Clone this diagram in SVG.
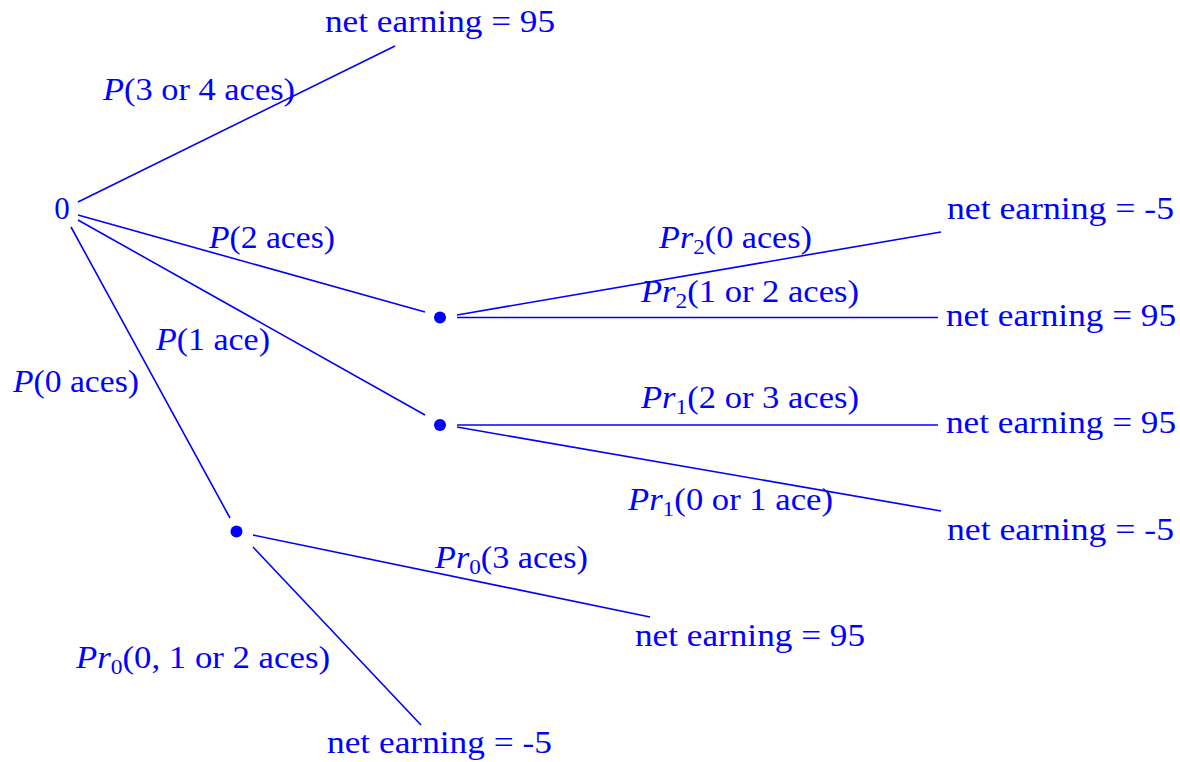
<svg xmlns="http://www.w3.org/2000/svg" width="1180" height="762" viewBox="0 0 1180 762">
<style>
  .t { font-family: "Liberation Serif", "Times New Roman", serif; font-size: 31px; fill: #0000ff; }
  .i { font-style: italic; }
  .s { font-size: 21px; }
  .ln { stroke: #0000ff; stroke-width: 1.6; fill: none; }
  .dot { fill: #0000ff; }
</style>
<rect width="1180" height="762" fill="#ffffff"/>
<g id="connectors">
  <line class="ln" x1="78" y1="202" x2="395" y2="46"/>
  <line class="ln" x1="78" y1="215" x2="425" y2="312"/>
  <line class="ln" x1="78" y1="220" x2="425" y2="415"/>
  <line class="ln" x1="71" y1="227" x2="230" y2="518"/>
  <line class="ln" x1="457" y1="315" x2="941" y2="232"/>
  <line class="ln" x1="457" y1="317.5" x2="938" y2="317.5"/>
  <line class="ln" x1="457" y1="425" x2="938" y2="425"/>
  <line class="ln" x1="457" y1="427" x2="941" y2="511"/>
  <line class="ln" x1="253" y1="535" x2="650" y2="617"/>
  <line class="ln" x1="253" y1="547" x2="421" y2="725"/>
</g>
<g id="labels">
  <text class="t" x="103" y="100" textLength="192" lengthAdjust="spacingAndGlyphs"><tspan class="i">P</tspan>(3 or 4 aces)</text>
  <text class="t" x="209" y="248" textLength="126" lengthAdjust="spacingAndGlyphs"><tspan class="i">P</tspan>(2 aces)</text>
  <text class="t" x="156" y="350" textLength="114" lengthAdjust="spacingAndGlyphs"><tspan class="i">P</tspan>(1 ace)</text>
  <text class="t" x="13" y="392" textLength="126" lengthAdjust="spacingAndGlyphs"><tspan class="i">P</tspan>(0 aces)</text>
  <text class="t" x="659" y="248" textLength="153" lengthAdjust="spacingAndGlyphs"><tspan class="i">Pr</tspan><tspan class="s" dy="6">2</tspan><tspan dy="-6">(0 aces)</tspan></text>
  <text class="t" x="641" y="302" textLength="218" lengthAdjust="spacingAndGlyphs"><tspan class="i">Pr</tspan><tspan class="s" dy="6">2</tspan><tspan dy="-6">(1 or 2 aces)</tspan></text>
  <text class="t" x="641" y="408" textLength="218" lengthAdjust="spacingAndGlyphs"><tspan class="i">Pr</tspan><tspan class="s" dy="6">1</tspan><tspan dy="-6">(2 or 3 aces)</tspan></text>
  <text class="t" x="628" y="510" textLength="205" lengthAdjust="spacingAndGlyphs"><tspan class="i">Pr</tspan><tspan class="s" dy="6">1</tspan><tspan dy="-6">(0 or 1 ace)</tspan></text>
  <text class="t" x="435" y="568" textLength="153" lengthAdjust="spacingAndGlyphs"><tspan class="i">Pr</tspan><tspan class="s" dy="6">0</tspan><tspan dy="-6">(3 aces)</tspan></text>
  <text class="t" x="76" y="668" textLength="254" lengthAdjust="spacingAndGlyphs"><tspan class="i">Pr</tspan><tspan class="s" dy="6">0</tspan><tspan dy="-6">(0, 1 or 2 aces)</tspan></text>
</g>
<g id="root">
  <text class="t" x="62" y="219" text-anchor="middle">0</text>
</g>
<g id="node-2aces">
  <circle class="dot" cx="440" cy="317.5" r="6"/>
</g>
<g id="node-1ace">
  <circle class="dot" cx="440" cy="425" r="6"/>
</g>
<g id="node-0aces">
  <circle class="dot" cx="236.5" cy="531.5" r="6"/>
</g>
<g id="leaf-34aces">
  <text class="t" x="325" y="32" textLength="230" lengthAdjust="spacingAndGlyphs">net earning = 95</text>
</g>
<g id="leaf-2-0">
  <text class="t" x="947" y="219" textLength="227" lengthAdjust="spacingAndGlyphs">net earning = -5</text>
</g>
<g id="leaf-2-12">
  <text class="t" x="946" y="326" textLength="230" lengthAdjust="spacingAndGlyphs">net earning = 95</text>
</g>
<g id="leaf-1-23">
  <text class="t" x="946" y="433" textLength="230" lengthAdjust="spacingAndGlyphs">net earning = 95</text>
</g>
<g id="leaf-1-01">
  <text class="t" x="947" y="540" textLength="227" lengthAdjust="spacingAndGlyphs">net earning = -5</text>
</g>
<g id="leaf-0-3">
  <text class="t" x="635" y="646" textLength="230" lengthAdjust="spacingAndGlyphs">net earning = 95</text>
</g>
<g id="leaf-0-012">
  <text class="t" x="327" y="753" textLength="225" lengthAdjust="spacingAndGlyphs">net earning = -5</text>
</g>
</svg>
